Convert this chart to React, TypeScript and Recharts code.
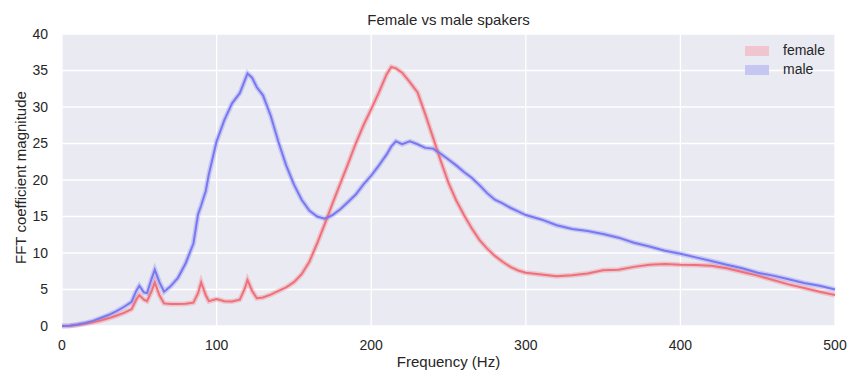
import { LineChart, Line, XAxis, YAxis, CartesianGrid } from "recharts";

const freqs = [
  0, 5, 10, 15, 20, 25, 30, 35, 40, 45, 48, 50, 53, 55, 58, 60, 63, 66, 70, 75, 80, 85, 88, 90, 93, 95,
  100, 105, 110, 115, 118, 120, 123, 126, 130, 135, 140, 145, 150, 155, 160, 165, 170, 175, 180, 185,
  190, 195, 200, 205, 210, 213, 216, 220, 225, 230, 235, 240, 245, 250, 255, 260, 265, 270, 275, 280,
  285, 290, 295, 300, 310, 320, 330, 340, 350, 360, 370, 380, 390, 400, 410, 420, 430, 440, 450, 460,
  470, 480, 490, 500,
];

const female = [
  0, 0.05, 0.15, 0.3, 0.5, 0.75, 1.05, 1.4, 1.8, 2.3, 3.6, 4.25, 3.6, 3.4, 4.8, 6.0, 4.2, 3.1, 3.0, 3.0,
  3.05, 3.2, 4.5, 6.0, 4.2, 3.4, 3.7, 3.4, 3.35, 3.6, 5.0, 6.3, 4.8, 3.8, 3.9, 4.3, 4.8, 5.3, 6.0, 7.1,
  8.8, 11.3, 14.0, 16.8, 19.5, 22.2, 25, 27.5, 29.7, 32, 34.5, 35.5, 35.3, 34.7, 33.4, 32.0, 29.0, 25.8,
  22.6, 19.6, 17.2, 15.2, 13.4, 11.8, 10.6, 9.6, 8.8, 8.1, 7.6, 7.3, 7.05, 6.8, 6.95, 7.2, 7.65, 7.7,
  8.1, 8.4, 8.5, 8.4, 8.35, 8.25, 7.9, 7.4, 6.9, 6.3, 5.7, 5.2, 4.7, 4.25,
];

const male = [
  0, 0.05, 0.2, 0.4, 0.7, 1.1, 1.5, 2.0, 2.6, 3.3, 4.8, 5.5, 4.6, 4.5, 6.5, 7.7, 6.0, 4.7, 5.4, 6.6,
  8.6, 11.3, 15.3, 16.5, 18.5, 20.8, 25.3, 28.2, 30.5, 31.9, 33.5, 34.6, 34.0, 32.7, 31.6, 28.8, 25.2,
  22.0, 19.4, 17.3, 15.8, 15.0, 14.7, 15.2, 16.0, 17.0, 18.0, 19.4, 20.6, 22.0, 23.5, 24.6, 25.3, 24.9,
  25.3, 24.9, 24.4, 24.3, 23.6, 22.8, 22.0, 21.1, 20.3, 19.3, 18.2, 17.3, 16.8, 16.2, 15.7, 15.2, 14.6,
  13.8, 13.3, 13.0, 12.6, 12.1, 11.4, 10.9, 10.3, 9.9, 9.4, 8.9, 8.4, 7.9, 7.3, 6.9, 6.4, 5.9, 5.5, 5.0,
];

const xTicks = [0, 100, 200, 300, 400, 500];
const yTicks = [0, 5, 10, 15, 20, 25, 30, 35, 40];

const data = freqs.map((f, i) => ({ f, female: female[i], male: male[i] }));

const FONT = "'Liberation Sans', Arial, sans-serif";
const RED = "#f0707a";
const BLUE = "#7878f2";

export default function App() {
  return (
    <div style={{ position: "absolute", left: 0, top: 0, width: 864, height: 384, background: "#fff", fontFamily: FONT }}>
      <div style={{ position: "absolute", top: 11, left: 62, width: 773, textAlign: "center", fontSize: 15, color: "#262626" }}>
        Female vs male spakers
      </div>
      <LineChart width={864} height={384} data={data} margin={{ top: 34, right: 29, left: 22, bottom: 28 }}>
        <CartesianGrid fill="#eaeaf2" stroke="#ffffff" strokeWidth={1.3} verticalValues={xTicks} horizontalValues={yTicks} />
        <XAxis
          dataKey="f"
          type="number"
          domain={[0, 500]}
          ticks={xTicks}
          axisLine={false}
          tickLine={false}
          tickMargin={8}
          height={30}
          tick={{ fill: "#262626", fontSize: 14, fontFamily: FONT }}
          label={{ value: "Frequency (Hz)", position: "insideBottom", offset: -11, fill: "#262626", fontSize: 15, fontFamily: FONT }}
        />
        <YAxis
          type="number"
          domain={[0, 40]}
          ticks={yTicks}
          axisLine={false}
          tickLine={false}
          tickMargin={8}
          width={40}
          tick={{ fill: "#262626", fontSize: 14, fontFamily: FONT }}
          label={{ value: "FFT coefficient magnitude", angle: -90, position: "insideLeft", offset: -1, dy: 84, fill: "#262626", fontSize: 15, fontFamily: FONT }}
        />
        {/* translucent halos stand in for the confidence bands */}
        <Line dataKey="female" stroke={RED} strokeOpacity={0.3} strokeWidth={5} dot={false} isAnimationActive={false} type="linear" />
        <Line dataKey="male" stroke={BLUE} strokeOpacity={0.3} strokeWidth={5} dot={false} isAnimationActive={false} type="linear" />
        <Line dataKey="female" stroke={RED} strokeWidth={2} dot={false} isAnimationActive={false} type="linear" />
        <Line dataKey="male" stroke={BLUE} strokeWidth={2} dot={false} isAnimationActive={false} type="linear" />
      </LineChart>
      <div style={{ position: "absolute", left: 745, top: 41, fontSize: 14, color: "#262626", lineHeight: "19px" }}>
        <div style={{ display: "flex", alignItems: "center" }}>
          <span style={{ width: 24, height: 10, background: "#efc6cf", marginRight: 14 }} />
          female
        </div>
        <div style={{ display: "flex", alignItems: "center" }}>
          <span style={{ width: 24, height: 10, background: "#c6c6f2", marginRight: 14 }} />
          male
        </div>
      </div>
    </div>
  );
}
